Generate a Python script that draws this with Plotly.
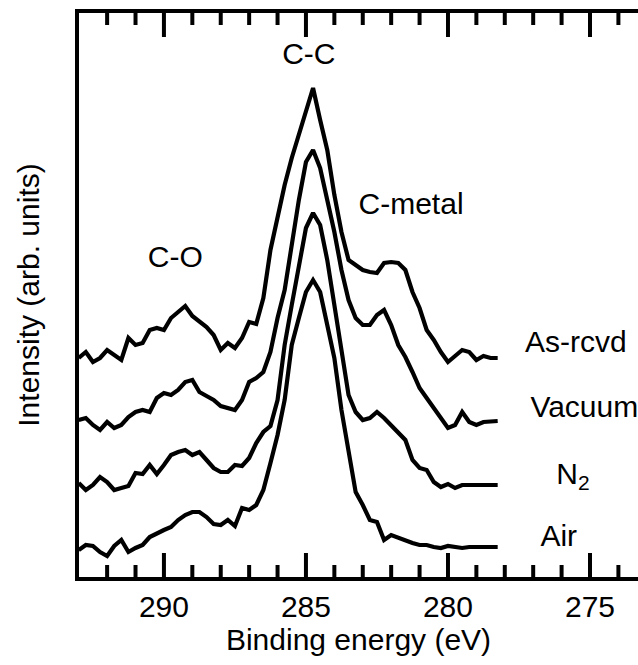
import plotly.graph_objects as go

energy = [293.0, 292.75, 292.5, 292.25, 292.0, 291.75, 291.5, 291.25, 291.0, 290.75,
          290.5, 290.25, 290.0, 289.75, 289.5, 289.25, 289.0, 288.75, 288.5, 288.25,
          288.0, 287.75, 287.5, 287.25, 287.0, 286.75, 286.5, 286.25, 286.0, 285.75,
          285.5, 285.25, 285.0, 284.75, 284.5, 284.25, 284.0, 283.75, 283.5, 283.25,
          283.0, 282.75, 282.5, 282.25, 282.0, 281.75, 281.5, 281.25, 281.0, 280.75,
          280.5, 280.25, 280.0, 279.75, 279.5, 279.25, 279.0, 278.75, 278.5, 278.25]

as_rcvd = [220, 226, 216, 220, 228, 223, 218, 240, 233, 235,
           248, 250, 248, 260, 266, 272, 262, 256, 251, 243,
           228, 235, 230, 240, 256, 254, 280, 328, 363, 393,
           420, 443, 468, 490, 458, 428, 383, 346, 318, 313,
           308, 306, 305, 315, 316, 315, 308, 286, 270, 248,
           238, 226, 216, 222, 228, 226, 218, 222, 220, 220]

vacuum = [158, 160, 153, 148, 156, 150, 153, 161, 166, 168,
          166, 180, 185, 183, 188, 196, 198, 186, 182, 178,
          172, 170, 168, 178, 196, 200, 206, 226, 260, 288,
          333, 378, 416, 428, 410, 378, 346, 308, 278, 260,
          253, 253, 263, 268, 253, 233, 221, 206, 190, 180,
          170, 160, 150, 153, 166, 156, 153, 156, 157, 157]

n2 = [95, 88, 93, 101, 96, 88, 90, 92, 105, 104,
      113, 104, 113, 123, 126, 128, 123, 126, 118, 110,
      106, 106, 113, 112, 120, 135, 146, 152, 178, 233,
      273, 310, 350, 365, 353, 318, 273, 223, 183, 166,
      158, 160, 166, 160, 153, 146, 138, 118, 110, 108,
      96, 91, 94, 90, 93, 93, 93, 93, 93, 93]

air = [28, 33, 32, 26, 22, 32, 38, 26, 30, 33,
       41, 45, 48, 51, 58, 63, 66, 66, 61, 54,
       53, 58, 52, 70, 68, 73, 88, 115, 143, 178,
       233, 260, 286, 298, 286, 253, 220, 168, 128, 86,
       73, 58, 56, 38, 43, 40, 38, 35, 33, 33,
       31, 30, 32, 31, 30, 31, 31, 30, 31, 31]

series_names = ["As-rcvd", "Vacuum", "N<sub>2</sub>", "Air"]
series_values = [as_rcvd, vacuum, n2, air]
label_x = [275.5, 275.2, 275.6, 276.1]
label_y = [234, 169, 102, 40]

peak_labels = ["C-O", "C-C", "C-metal"]
peak_x = [289.6, 284.9, 281.3]
peak_y = [319, 522, 372]

major_ticks = [290, 285, 280, 275]
minor_ticks = [292, 291, 289, 288, 287, 286, 284, 283, 282, 281, 279, 278, 277, 276, 274]

FONT = "Liberation Sans"
Y_MIN, Y_MAX = 1, 565
MAJOR_LEN, MINOR_LEN = 24, 12

fig = go.Figure()

# inward tick marks on bottom and top axes (drawn as line segments)
tx, ty = [], []
for ticks, length in ((major_ticks, MAJOR_LEN), (minor_ticks, MINOR_LEN)):
    for t in ticks:
        tx += [t, t, None, t, t, None]
        ty += [Y_MIN, Y_MIN + length, None, Y_MAX, Y_MAX - length, None]
fig.add_trace(go.Scatter(x=tx, y=ty, mode="lines", name="ticks",
                         line=dict(color="black", width=4)))

for name, vals in zip(series_names, series_values):
    fig.add_trace(go.Scatter(x=energy, y=vals, mode="lines", name=name,
                             line=dict(color="black", width=4.2)))

# in-plot labels as a text trace
fig.add_trace(go.Scatter(x=label_x + peak_x, y=label_y + peak_y, mode="text",
                         text=series_names + peak_labels, textposition="middle center",
                         textfont=dict(size=30, color="black", family=FONT),
                         cliponaxis=False, name="labels"))

fig.update_layout(
    width=638, height=665,
    margin=dict(l=79, r=0, t=13, b=88),
    paper_bgcolor="white", plot_bgcolor="white",
    showlegend=False,
    xaxis=dict(range=[292.99, 273.31],
               showline=True, linecolor="black", linewidth=4, mirror=True,
               ticks="", tickvals=major_ticks, ticktext=[str(t) for t in major_ticks],
               tickfont=dict(size=30, family=FONT, color="black"),
               title=dict(text="Binding energy (eV)", standoff=8,
                          font=dict(size=30, family=FONT, color="black")),
               showgrid=False, zeroline=False),
    yaxis=dict(range=[Y_MIN, Y_MAX],
               showline=True, linecolor="black", linewidth=4,
               ticks="", showticklabels=False, showgrid=False, zeroline=False,
               title=dict(text="Intensity (arb. units)", standoff=28,
                          font=dict(size=30, family=FONT, color="black"))),
)
fig.write_html("out.html")
